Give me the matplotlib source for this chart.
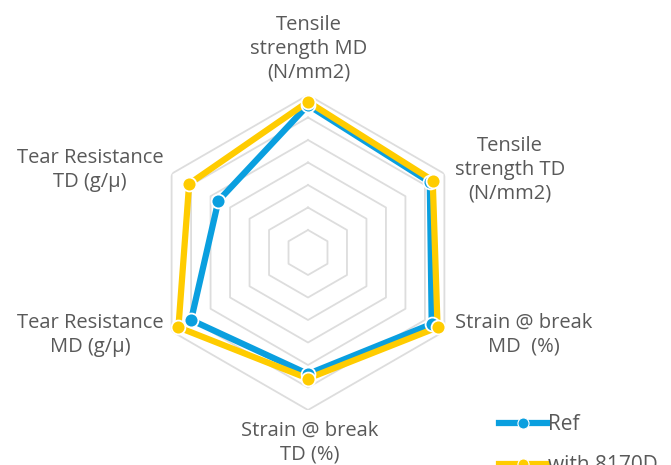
import matplotlib.pyplot as plt
import numpy as np

plt.rcParams['font.family'] = ['Open Sans', 'DejaVu Sans']

# Kategorie (zgodnie z ruchem wskazówek zegara, od góry)
categories = ['Tensile\nstrength MD\n(N/mm2)', 'Tensile\nstrength TD\n(N/mm2)',
              'Strain @ break\nMD  (%)', 'Strain @ break\nTD (%)',
              'Tear Resistance\nMD (g/\u03bc)', 'Tear Resistance\nTD (g/\u03bc)']
ref = [131, 125, 127, 108, 120, 92]
with_8170d = [134, 128, 133, 112, 133, 122]
series_names = ['Ref', 'with 8170D']
rings = [20, 40, 60, 80, 100, 120, 140]

blue = '#0A9FDF'
yellow = '#FFCC00'
grey_text = '#595959'

W, H = 671, 465
fig = plt.figure(figsize=(W / 100, H / 100), dpi=100)

# Środek wykresu i promień w pikselach
cx, cy, R = 308, 252.5, 157.5
ax = fig.add_axes([(cx - R) / W, (H - cy - R) / H, 2 * R / W, 2 * R / H], projection='polar')
ax.set_theta_zero_location('N')
ax.set_theta_direction(-1)
ax.set_ylim(0, rings[-1])
ax.grid(False)
ax.set_xticks([])
ax.set_yticks([])
ax.spines['polar'].set_visible(False)
ax.patch.set_alpha(0)

n = len(categories)
angles = np.arange(n) * 2 * np.pi / n
closed = np.append(angles, angles[0])

# Siatka sześciokątna
for r in rings:
    ax.plot(closed, [r] * (n + 1), color='#DDDDDD', lw=1.3, zorder=1)

for vals, col in [(ref, blue), (with_8170d, yellow)]:
    v = np.append(vals, vals[0])
    ax.plot(closed, v, color=col, lw=4.5, zorder=3, solid_joinstyle='miter')
    ax.plot(angles, vals, 'o', color=col, ms=10, mec='white', mew=1.3, zorder=4, clip_on=False)

# Etykiety osi (pozycje w pikselach)
label_pos = [(309, 49), (510, 170), (524, 335), (310, 443), (90, 335), (90, 170)]
for text, (px, py) in zip(categories, label_pos):
    fig.text(px / W, 1 - py / H, text, ha='center', va='center', fontsize=14.5,
             color=grey_text, linespacing=1.25)

# Legenda
handles = [plt.Line2D([], [], color=c, lw=4.5, marker='o', ms=8, mec='white', mew=0.8)
           for c in (blue, yellow)]
fig.legend(handles, series_names, loc='upper left', bbox_to_anchor=(489 / W, 1 - 404 / H),
           frameon=False, fontsize=15, handlelength=2.3, handletextpad=0.05,
           labelspacing=0.95, borderpad=0, labelcolor=grey_text)

fig.savefig('out.png', dpi=100)
